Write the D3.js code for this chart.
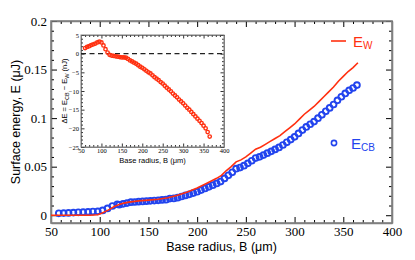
<!DOCTYPE html>
<html><head><meta charset="utf-8">
<script src="https://cdn.jsdelivr.net/npm/d3@7"></script>
<style>
body{margin:0;background:#fff;}
svg{display:block;}
</style></head>
<body>
<svg id="c" width="415" height="260"></svg>
<script>
// ---- data ----
const xTicks = [50,100,150,200,250,300,350,400];
const yTicks = [0,0.05,0.1,0.15,0.2];
const yTickLabels = ["0","0.05","0.1","0.15","0.2"];
const insetXTicks = [50,100,150,200,250,300,350,400];
const insetYTicks = [5,0,-5,-10,-15,-20,-25];

// E_W (red line), uJ
const bW = [50,60,70,80,90,98,102,106,110,115,120,125,130,140,150,160,170,180,190,200,210,220,225,230,235,240,245,250,255,260,265,270,275,280,285,290,295,300,305,310,315,320,325,330,335,340,345,350,355,360,365];
const eW = [0,0,0,0,0,0.0005,0.002,0.004,0.006,0.009,0.011,0.0125,0.0135,0.0148,0.0156,0.0165,0.018,0.0205,0.024,0.028,0.033,0.038,0.041,0.046,0.050,0.055,0.057,0.060,0.064,0.068,0.070,0.073,0.076,0.079,0.082,0.086,0.090,0.094,0.099,0.104,0.108,0.112,0.117,0.122,0.127,0.132,0.138,0.143,0.148,0.152,0.157];

// E_CB (blue circles), uJ
const bCB = [58,63,68,73,78,83,88,93,98,103,108,113,118,120,124,128,132,136,140,144,148,152,156,160,164,168,172,176,180,184,188,192,196,200,204,208,212,216,220,224,228,232,236,240,244,248,252,256,260,264,268,272,276,280,284,288,292,296,300,304,308,312,316,320,324,328,332,336,340,344,348,352,356,360,364];
const eCB = [0.002,0.0022,0.0024,0.0027,0.003,0.0032,0.0035,0.0038,0.004,0.005,0.007,0.0095,0.0113,0.0108,0.0117,0.0125,0.0134,0.0136,0.0140,0.0142,0.0145,0.0148,0.0151,0.0154,0.0158,0.0160,0.0171,0.0173,0.0181,0.0193,0.0204,0.0215,0.0228,0.0242,0.0259,0.0276,0.0292,0.0309,0.0327,0.0347,0.0379,0.0411,0.0442,0.0479,0.0491,0.0510,0.0534,0.0561,0.0589,0.0601,0.0619,0.0639,0.0658,0.0678,0.0698,0.0723,0.0751,0.0779,0.0807,0.0842,0.0877,0.0909,0.0937,0.0964,0.0999,0.1034,0.1070,0.1105,0.1140,0.1183,0.1220,0.1254,0.1286,0.1310,0.1340];

// Inset: dE = E_CB - E_W, nJ
const bD = [60,65,70,75,80,85,90,95,100,105,110,115,120,125,130,135,140,145,150,155,160,165,170,175,180,185,190,195,200,205,210,215,220,225,230,235,240,245,250,255,260,265,270,275,280,285,290,295,300,305,310,315,320,325,330,335,340,345,350,355,360,365];
const dE = [1.5,1.8,2.0,2.3,2.5,2.7,3.0,3.2,3.0,2.2,1.2,0.3,-0.3,-0.5,-0.6,-0.7,-0.8,-0.9,-1.0,-1.0,-1.1,-1.4,-1.8,-2.1,-2.4,-2.7,-3.1,-3.5,-3.8,-4.2,-4.6,-5.0,-5.3,-5.8,-6.3,-6.7,-7.1,-7.6,-8.0,-8.6,-9.1,-9.6,-10.1,-10.7,-11.2,-11.7,-12.3,-12.8,-13.3,-13.9,-14.5,-15.0,-15.6,-16.2,-16.8,-17.4,-18.0,-18.6,-19.3,-20.0,-21.0,-22.2];

const RED = "#ff3010", BLUE = "#2244ee", AX = "#808080";
const SERIF = "'Liberation Serif','Times New Roman',serif";
const SANS = "'Liberation Sans',Arial,sans-serif";

const svg = d3.select("#c");

// ---- main axes ----
const x = d3.scaleLinear([50,400],[51,392]);
const y = d3.scaleLinear([-0.008,0.2],[223,21]);
const L=51,R=392,T=21,B=223;

function styleAxis(g){
  g.selectAll("path.domain").attr("stroke",AX).attr("stroke-width",1.6);
  g.selectAll(".tick line").attr("stroke","#000").attr("stroke-width",1);
}
const minorX = d3.range(50,401,10).filter(v=>v%50!==0);
const minorY = d3.range(0,201,10).map(v=>v/1000).filter((v,i)=>i%5!==0);

// bottom
let g = svg.append("g").attr("transform",`translate(0,${B})`)
  .call(d3.axisBottom(x).tickValues(xTicks).tickSize(-6).tickSizeOuter(0).tickPadding(4).tickFormat(d3.format("d")));
styleAxis(g);
g.selectAll("text").attr("font-family",SERIF).attr("font-size",13).attr("fill","#000");
svg.append("g").attr("transform",`translate(0,${B})`)
  .call(d3.axisBottom(x).tickValues(minorX).tickSize(-3).tickFormat("")).call(g2=>{g2.select(".domain").remove();g2.selectAll("line").attr("stroke","#000");});
// top
g = svg.append("g").attr("transform",`translate(0,${T})`)
  .call(d3.axisTop(x).tickValues(xTicks).tickSize(-6).tickSizeOuter(0).tickFormat(""));
styleAxis(g);
svg.append("g").attr("transform",`translate(0,${T})`)
  .call(d3.axisTop(x).tickValues(minorX).tickSize(-3).tickFormat("")).call(g2=>{g2.select(".domain").remove();g2.selectAll("line").attr("stroke","#000");});
// left
g = svg.append("g").attr("transform",`translate(${L},0)`)
  .call(d3.axisLeft(y).tickValues(yTicks).tickSize(-6).tickSizeOuter(0).tickPadding(4).tickFormat((d,i)=>yTickLabels[i]));
styleAxis(g);
g.selectAll("text").attr("font-family",SERIF).attr("font-size",13).attr("fill","#000");
svg.append("g").attr("transform",`translate(${L},0)`)
  .call(d3.axisLeft(y).tickValues(minorY).tickSize(-3).tickFormat("")).call(g2=>{g2.select(".domain").remove();g2.selectAll("line").attr("stroke","#000");});
// right
g = svg.append("g").attr("transform",`translate(${R},0)`)
  .call(d3.axisRight(y).tickValues(yTicks).tickSize(-6).tickSizeOuter(0).tickFormat(""));
styleAxis(g);
svg.append("g").attr("transform",`translate(${R},0)`)
  .call(d3.axisRight(y).tickValues(minorY).tickSize(-3).tickFormat("")).call(g2=>{g2.select(".domain").remove();g2.selectAll("line").attr("stroke","#000");});
// frame
svg.append("rect").attr("x",L).attr("y",T).attr("width",R-L).attr("height",B-T)
  .attr("fill","none").attr("stroke",AX).attr("stroke-width",1.6);

// titles
svg.append("text").attr("x",(L+R)/2).attr("y",251).attr("text-anchor","middle")
  .attr("font-family",SANS).attr("font-size",12.5).text("Base radius, B (μm)");
svg.append("text").attr("transform","translate(20,122) rotate(-90)").attr("text-anchor","middle")
  .attr("font-family",SANS).attr("font-size",12.5).text("Surface energy, E (μJ)");

// ---- main data ----
const line = d3.line().x(d=>x(d[0])).y(d=>y(d[1]));
svg.append("g").selectAll("circle").data(d3.zip(bCB,eCB)).join("circle")
  .attr("cx",d=>x(d[0])).attr("cy",d=>y(d[1])).attr("r",2.9)
  .attr("fill","none").attr("stroke",BLUE).attr("stroke-width",1.9);
svg.append("path").datum(d3.zip(bW,eW)).attr("d",line)
  .attr("fill","none").attr("stroke",RED).attr("stroke-width",1.6);

// legend
svg.append("line").attr("x1",331).attr("x2",346).attr("y1",41).attr("y2",41).attr("stroke",RED).attr("stroke-width",1.6);
const t1 = svg.append("text").attr("x",353).attr("y",47).attr("font-family",SANS).attr("fill",RED).attr("font-size",15);
t1.append("tspan").text("E");
t1.append("tspan").attr("font-size",10).attr("dy",2).text("W");
svg.append("circle").attr("cx",334).attr("cy",143).attr("r",2.6).attr("fill","none").attr("stroke",BLUE).attr("stroke-width",1.6);
const t2 = svg.append("text").attr("x",351).attr("y",149).attr("font-family",SANS).attr("fill",BLUE).attr("font-size",15);
t2.append("tspan").text("E");
t2.append("tspan").attr("font-size",10).attr("dy",2).text("CB");

// ---- inset ----
const xi = d3.scaleLinear([50,400],[81,224]);
const yi = d3.scaleLinear([-25,5],[147,35]);
const iL=81,iR=224,iT=35,iB=147;
function styleInset(g){
  g.selectAll("path.domain").attr("stroke",AX).attr("stroke-width",1);
  g.selectAll(".tick line").attr("stroke","#000").attr("stroke-width",0.8);
}
const minorXi = d3.range(50,401,10).filter(v=>v%50!==0);
const minorYi = d3.range(-25,5.1,1).filter(v=>v%5!==0);
function minorAx(axisFn, scale, vals, tr){
  svg.append("g").attr("transform",tr).call(axisFn(scale).tickValues(vals).tickSize(-2).tickFormat(""))
    .call(g2=>{g2.select(".domain").remove();g2.selectAll("line").attr("stroke","#000").attr("stroke-width",0.8);});
}
g = svg.append("g").attr("transform",`translate(0,${iB})`)
  .call(d3.axisBottom(xi).tickValues(insetXTicks).tickSize(-3.5).tickSizeOuter(0).tickPadding(1.5).tickFormat(d3.format("d")));
styleInset(g); g.selectAll("text").attr("font-family",SERIF).attr("font-size",6.5).attr("fill","#000");
minorAx(d3.axisBottom, xi, minorXi, `translate(0,${iB})`);
g = svg.append("g").attr("transform",`translate(0,${iT})`)
  .call(d3.axisTop(xi).tickValues(insetXTicks).tickSize(-3.5).tickSizeOuter(0).tickFormat(""));
styleInset(g);
minorAx(d3.axisTop, xi, minorXi, `translate(0,${iT})`);
g = svg.append("g").attr("transform",`translate(${iL},0)`)
  .call(d3.axisLeft(yi).tickValues(insetYTicks).tickSize(-3.5).tickSizeOuter(0).tickPadding(2).tickFormat(d3.format("d")));
styleInset(g); g.selectAll("text").attr("font-family",SERIF).attr("font-size",6.5).attr("fill","#000");
minorAx(d3.axisLeft, yi, minorYi, `translate(${iL},0)`);
g = svg.append("g").attr("transform",`translate(${iR},0)`)
  .call(d3.axisRight(yi).tickValues(insetYTicks).tickSize(-3.5).tickSizeOuter(0).tickFormat(""));
styleInset(g);
minorAx(d3.axisRight, yi, minorYi, `translate(${iR},0)`);
svg.append("rect").attr("x",iL).attr("y",iT).attr("width",iR-iL).attr("height",iB-iT)
  .attr("fill","none").attr("stroke",AX).attr("stroke-width",1);

// zero dashed line
svg.append("line").attr("x1",iL).attr("x2",iR).attr("y1",yi(0)).attr("y2",yi(0))
  .attr("stroke","#222").attr("stroke-width",1.1).attr("stroke-dasharray","5,3.5");

svg.append("g").selectAll("circle").data(d3.zip(bD,dE)).join("circle")
  .attr("cx",d=>xi(d[0])).attr("cy",d=>yi(d[1])).attr("r",1.7)
  .attr("fill","none").attr("stroke",RED).attr("stroke-width",1.4);

// inset titles
svg.append("text").attr("x",(iL+iR)/2).attr("y",163).attr("text-anchor","middle")
  .attr("font-family",SANS).attr("font-size",7.5).text("Base radius, B (μm)");
const yt = svg.append("text").attr("transform",`translate(67,${(iT+iB)/2}) rotate(-90)`).attr("text-anchor","middle")
  .attr("font-family",SANS).attr("font-size",7.5);
yt.append("tspan").text("ΔE = E");
yt.append("tspan").attr("font-size",5.5).attr("dy",1.5).text("CB");
yt.append("tspan").attr("dy",-1.5).text(" − E");
yt.append("tspan").attr("font-size",5.5).attr("dy",1.5).text("W");
yt.append("tspan").attr("dy",-1.5).text(" (nJ)");
</script>
</body></html>
